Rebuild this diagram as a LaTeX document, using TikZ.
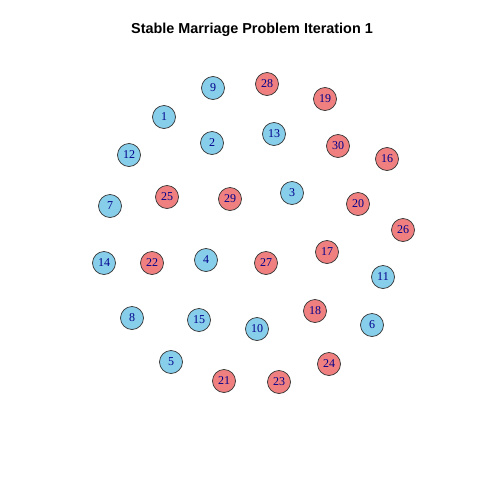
\documentclass[tikz,border=0pt]{standalone}
\usepackage{fontspec}
\setmainfont{Liberation Serif}
\newfontfamily\titlefont{Liberation Sans}
\usepackage{tikz}
\definecolor{manfill}{HTML}{87CEEB}
\definecolor{womanfill}{HTML}{F08080}
\definecolor{labelcol}{HTML}{00008B}
\definecolor{rim}{HTML}{333333}
\tikzset{
  person/.style={
    circle,
    draw=rim,
    line width=0.7pt,
    minimum size=23pt,
    inner sep=0pt,
    font=\fontsize{12}{12}\selectfont,
    text=labelcol
  },
  man/.style={person, fill=manfill},
  woman/.style={person, fill=womanfill},
  plot title/.style={font=\titlefont\bfseries\fontsize{14.4}{16}\selectfont}
}

\begin{document}
\begin{tikzpicture}[x=1pt, y=-1pt]
  \useasboundingbox (0,0) rectangle (480,480);
  \node[plot title] (title) at (252,30) {Stable Marriage Problem Iteration 1};

  % men
  \foreach \n/\x/\y in {1/164/117, 2/212/143, 3/292/193, 4/206/260, 5/171/362,
      6/372/325, 7/110/206, 8/132/318, 9/213/88, 10/257/329,
      11/383/277, 12/129/155, 13/274/134, 14/104/263, 15/199/320}
    \node[man] (m\n) at (\x,\y) {\n};

  % women
  \foreach \n/\x/\y in {16/387/159, 17/327/252, 18/315/311, 19/325/99, 20/358/204,
      21/224/381, 22/152/263, 23/279/382, 24/329/364, 25/167/197,
      26/403/230, 27/266/263, 28/267/84, 29/230/199, 30/338/146}
    \node[woman] (w\n) at (\x,\y) {\n};
\end{tikzpicture}
\end{document}
